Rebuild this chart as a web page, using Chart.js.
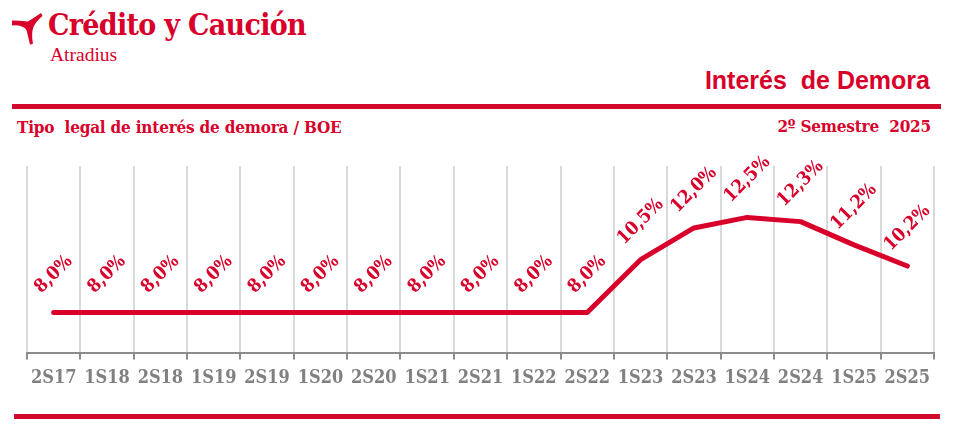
<!DOCTYPE html>
<html>
<head>
<meta charset="utf-8">
<script src="https://cdn.jsdelivr.net/npm/chart.js@4.4.1/dist/chart.umd.min.js"></script>
<style>
  html, body { margin: 0; padding: 0; background: #fff; }
  body { width: 955px; height: 436px; position: relative; overflow: hidden; }
  .abs { position: absolute; white-space: pre; color: #d8002a; }
  #logoText { left: 48px; top: 7px; font: bold 30px "DejaVu Serif Condensed", "DejaVu Serif", serif; letter-spacing: -0.7px; }
  #logoSub { left: 50px; top: 44px; font: 19.5px "Liberation Serif", serif; }
  #mainTitle { right: 25px; top: 66px; font: bold 25px "Liberation Sans", sans-serif; }
  #subLeft { left: 17px; top: 117px; font: bold 17px "DejaVu Serif Condensed", "DejaVu Serif", serif; letter-spacing: -0.2px; }
  #subRight { right: 24px; top: 116px; font: bold 17px "DejaVu Serif Condensed", "DejaVu Serif", serif; letter-spacing: -0.2px; }
  .bar { position: absolute; background: #d10a2c; }
  #chartWrap { position: absolute; left: 0; top: 0; width: 955px; height: 436px; }
  #logoIcon { position: absolute; left: 0; top: 0; }
</style>
</head>
<body>
<svg id="logoIcon" width="50" height="50" viewBox="0 0 50 50">
  <path d="M12,20.5 L12,25.5 Q22,24.5 26.5,30 L30,44.5 Q32,44.5 33,43.5 Q31,33 33.5,27 Q36.5,20.5 42.5,16 L41,13 Q33,18.5 28,21.5 Q20,20.5 12,20.5 Z" fill="#d8002a"/>
</svg>
<div class="abs" id="logoText">Crédito y Caución</div>
<div class="abs" id="logoSub">Atradius</div>
<div class="abs" id="mainTitle">Interés  de Demora</div>
<div class="bar" style="left:12px; top:104px; width:929px; height:5px;"></div>
<div class="abs" id="subLeft">Tipo  legal de interés de demora / BOE</div>
<div class="abs" id="subRight">2º Semestre  2025</div>
<div class="bar" style="left:14px; top:414px; width:926px; height:5px;"></div>
<div id="chartWrap"><canvas id="c" width="955" height="436"></canvas></div>
<script>
const categories = ["2S17","1S18","2S18","1S19","2S19","1S20","2S20","1S21","2S21","1S22","2S22","1S23","2S23","1S24","2S24","1S25","2S25"];
const rates = [8.0, 8.0, 8.0, 8.0, 8.0, 8.0, 8.0, 8.0, 8.0, 8.0, 8.0, 10.5, 12.0, 12.5, 12.3, 11.2, 10.2];
const rateLabels = ["8,0%","8,0%","8,0%","8,0%","8,0%","8,0%","8,0%","8,0%","8,0%","8,0%","8,0%","10,5%","12,0%","12,5%","12,3%","11,2%","10,2%"];

const RED = '#d8002a';
const SLAB = '"DejaVu Serif Condensed", "DejaVu Serif", serif';

const rotatedLabels = {
  id: 'rotatedLabels',
  afterDatasetsDraw(chart) {
    const ctx = chart.ctx;
    const meta = chart.getDatasetMeta(0);
    ctx.save();
    ctx.fillStyle = RED;
    ctx.font = 'bold 18.5px ' + SLAB;
    ctx.textAlign = 'center';
    ctx.textBaseline = 'middle';
    meta.data.forEach((pt, i) => {
      ctx.save();
      ctx.translate(pt.x, pt.y - 38);
      ctx.rotate(-Math.PI / 4);
      ctx.fillText(rateLabels[i], 0, 0);
      ctx.restore();
    });
    ctx.restore();
  }
};

new Chart(document.getElementById('c'), {
  type: 'line',
  data: {
    labels: categories,
    datasets: [{
      data: rates,
      borderColor: RED,
      borderWidth: 5,
      pointRadius: 0,
      tension: 0,
      borderCapStyle: 'round',
      borderJoinStyle: 'round',
      fill: false
    }]
  },
  options: {
    responsive: false,
    animation: false,
    layout: { padding: { top: 166, left: 27, right: 21, bottom: 39 } },
    plugins: { legend: { display: false }, tooltip: { enabled: false } },
    scales: {
      x: {
        offset: true,
        grid: { offset: true, color: '#d9d9d9', lineWidth: 2, tickColor: '#8c8c8c', tickWidth: 2, tickLength: 6, drawTicks: true },
        border: { color: '#8c8c8c', width: 2 },
        ticks: { color: '#808080', font: { family: SLAB, size: 18, weight: 'bold' }, padding: 8, maxRotation: 0, autoSkip: false }
      },
      y: { display: false, min: 6.07, max: 14.93 }
    }
  },
  plugins: [rotatedLabels]
});
</script>
</body>
</html>
